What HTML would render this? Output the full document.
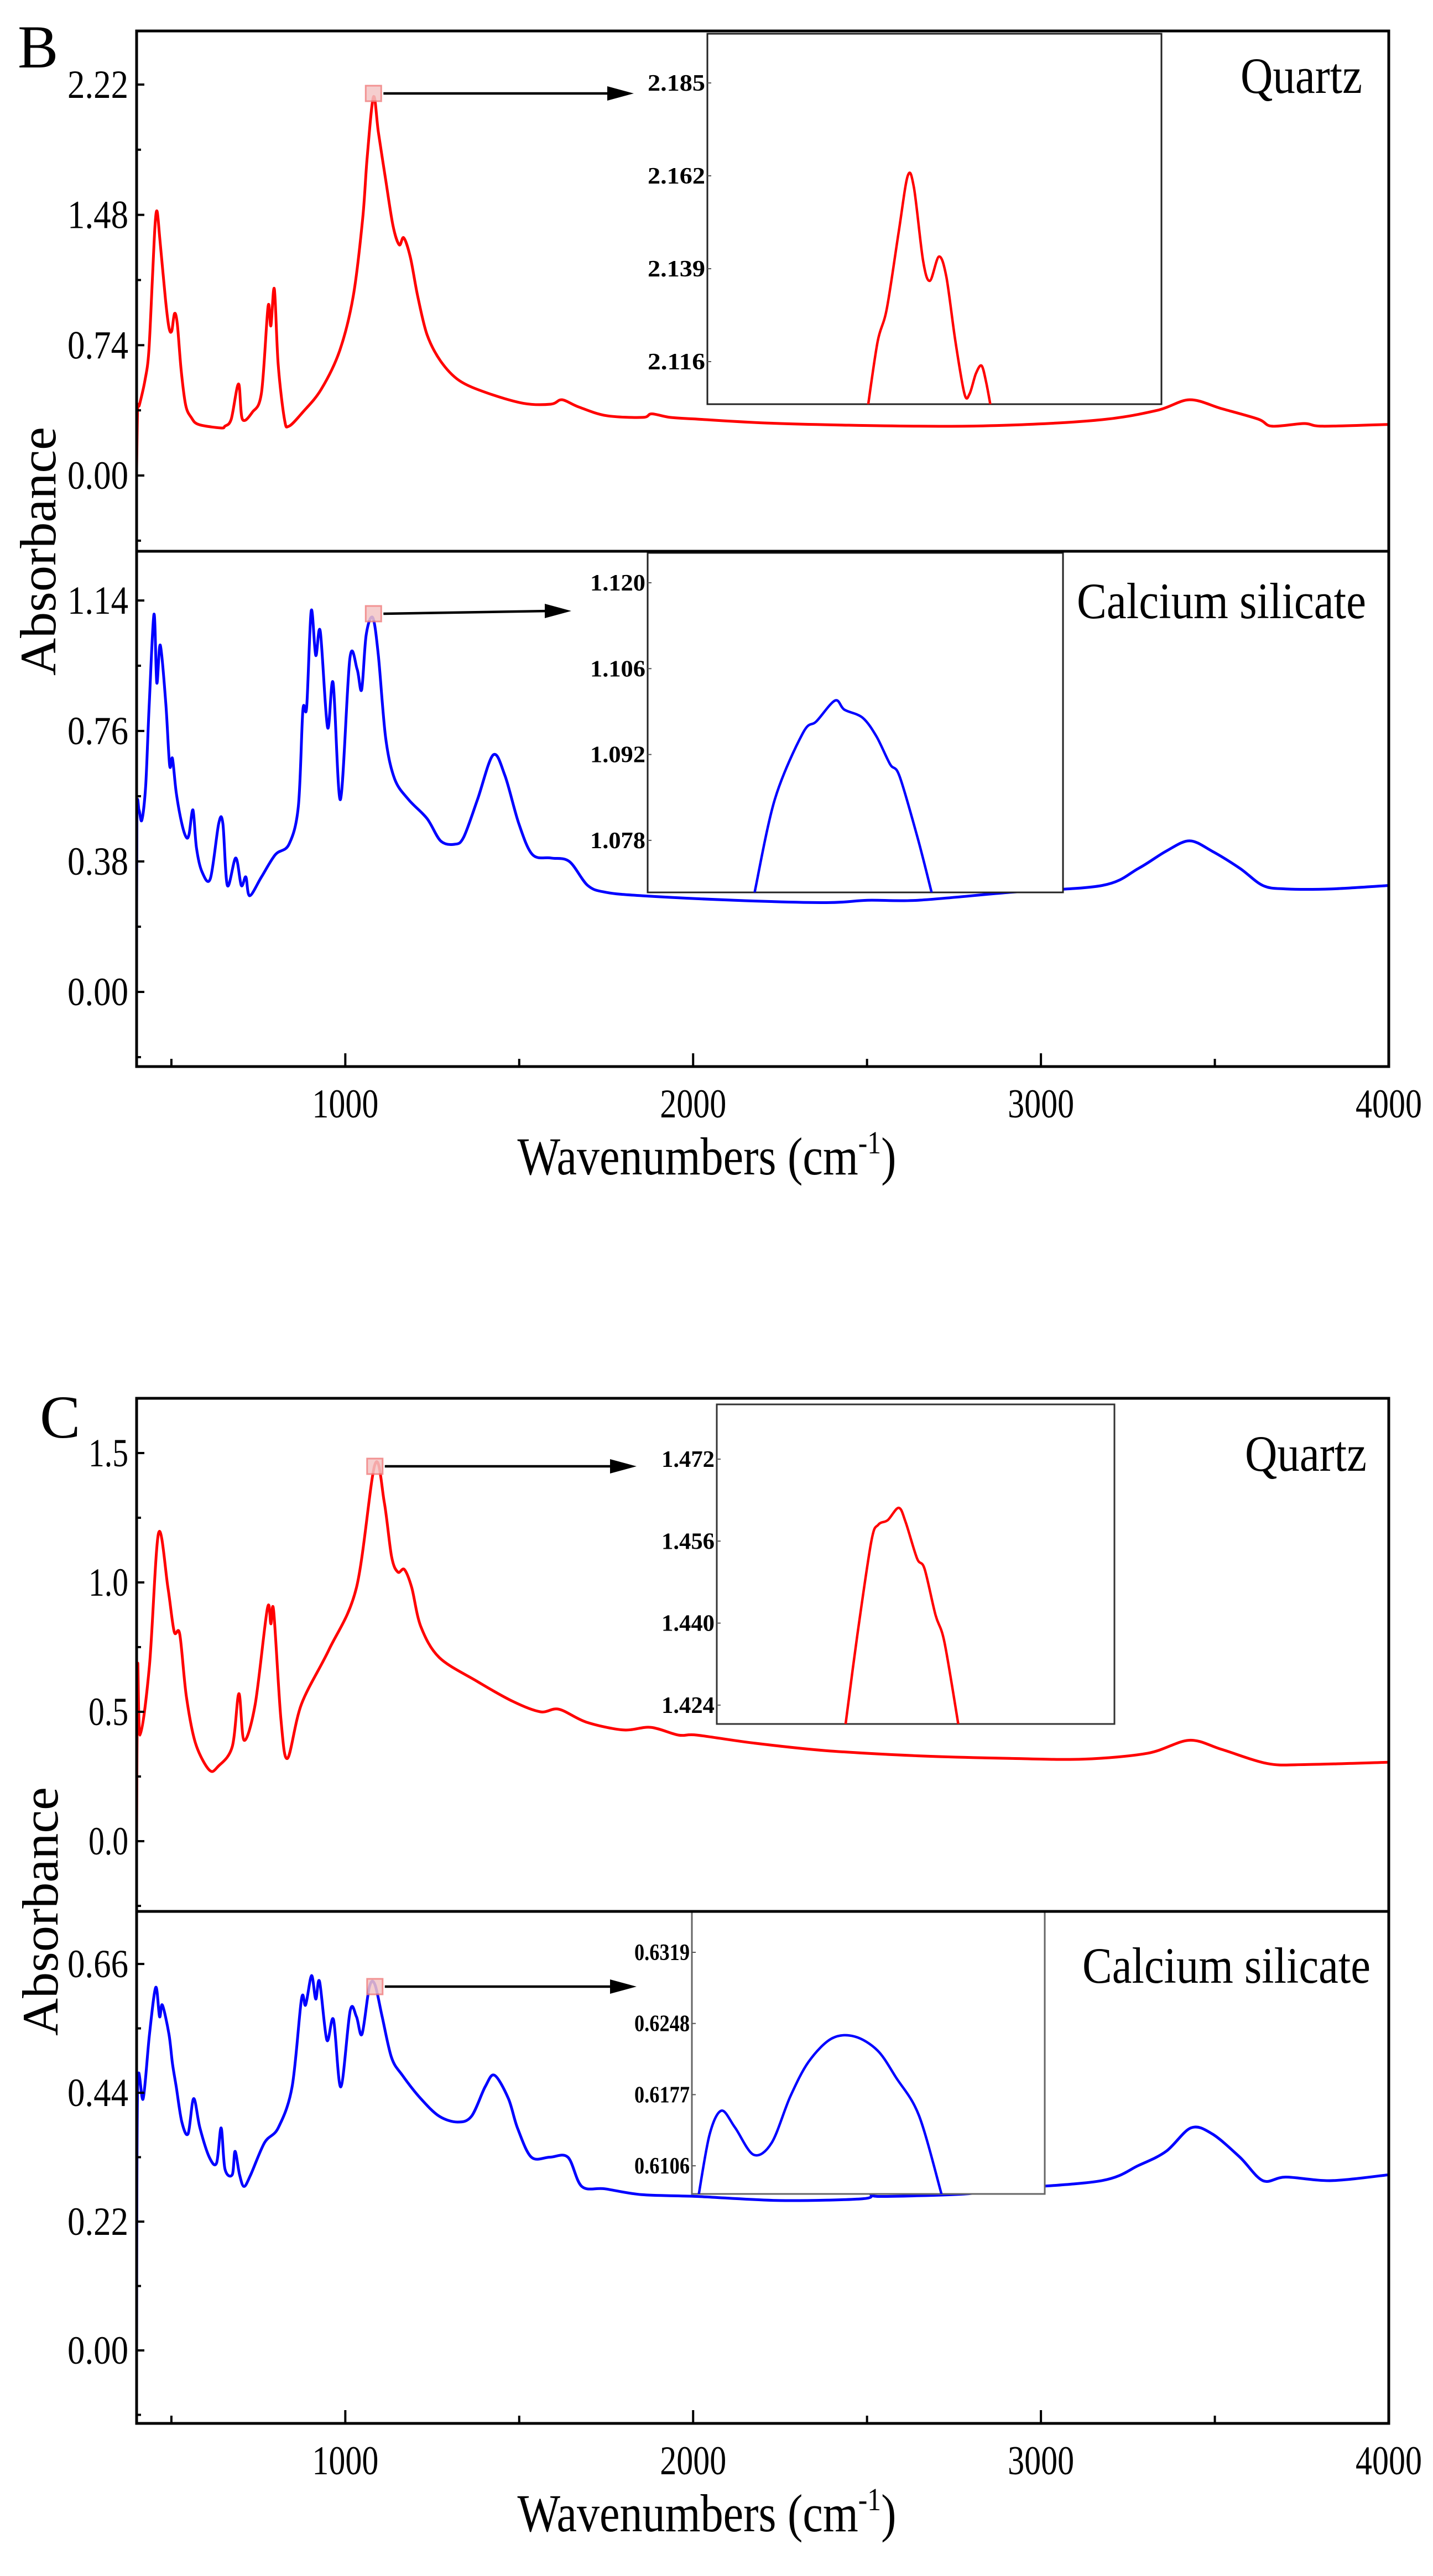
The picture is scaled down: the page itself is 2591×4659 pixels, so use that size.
<!DOCTYPE html>
<html><head><meta charset="utf-8"><style>
html,body{margin:0;padding:0;background:#fff;}
svg{display:block;}
text{font-family:"Liberation Serif",serif;}
</style></head><body>
<svg id="fig" width="2591" height="4659" viewBox="0 0 2591 4659" xmlns="http://www.w3.org/2000/svg">
<rect x="0" y="0" width="2591" height="4659" fill="#fff"/>
</svg>
<script>
// ---------- data ----------
const bQuartzWn=[400,403,408,424,435,445,453,459,467,483,493,501,509,517,528,541,557,578,642,654,672,693,704,733,759,778,786,796,807,825,838,878,931,984,1023,1050,1063,1081,1095,1116,1137,1155,1168,1187,1208,1235,1274,1327,1406,1512,1591,1623,1670,1750,1855,1881,1934,2014,2251,2647,2911,3176,3334,3427,3519,3625,3664,3757,3810,4000];
const bQuartzAbs=[0.04,0.38,0.40,0.54,0.70,1.10,1.42,1.50,1.34,1.00,0.84,0.82,0.92,0.86,0.60,0.40,0.33,0.29,0.27,0.28,0.32,0.52,0.32,0.36,0.47,0.96,0.85,1.06,0.63,0.32,0.28,0.36,0.49,0.71,1.02,1.46,1.81,2.15,1.95,1.68,1.42,1.31,1.35,1.24,1.02,0.80,0.65,0.54,0.47,0.41,0.405,0.43,0.39,0.34,0.33,0.35,0.33,0.32,0.295,0.28,0.286,0.317,0.37,0.43,0.38,0.32,0.28,0.295,0.28,0.29];
const bCaSiWn=[400,401,407,415,426,436,450,458,468,484,495,503,514,530,543,551,562,572,588,612,636,648,661,685,701,714,725,759,799,838,865,878,889,902,915,928,949,965,986,1013,1034,1047,1060,1079,1095,1116,1142,1182,1235,1274,1314,1340,1380,1425,1459,1499,1538,1591,1644,1697,1750,1855,2119,2383,2502,2647,2911,3176,3281,3360,3427,3492,3572,3638,3704,3836,4000];
const bCaSiAbs=[0,0.52,0.53,0.50,0.60,0.83,1.10,0.90,1.01,0.84,0.66,0.68,0.58,0.49,0.45,0.46,0.53,0.42,0.35,0.33,0.49,0.49,0.31,0.39,0.31,0.335,0.28,0.335,0.40,0.43,0.54,0.82,0.83,1.11,0.98,1.05,0.77,0.90,0.56,0.97,0.94,0.88,1.04,1.09,0.98,0.74,0.62,0.56,0.505,0.44,0.43,0.45,0.56,0.69,0.63,0.49,0.40,0.39,0.38,0.31,0.29,0.28,0.267,0.26,0.267,0.267,0.29,0.31,0.36,0.41,0.44,0.41,0.36,0.31,0.30,0.30,0.31];
const cQuartzWn=[400,403,410,437,463,490,508,524,543,569,609,635,675,694,709,741,776,786,794,815,834,874,953,1032,1085,1112,1133,1151,1170,1191,1217,1270,1376,1482,1561,1614,1693,1799,1878,1958,2011,2170,2381,2646,2911,3122,3307,3426,3519,3651,3757,4000];
const cQuartzAbs=[0,0.68,0.41,0.68,1.19,0.98,0.81,0.80,0.56,0.38,0.275,0.29,0.365,0.57,0.39,0.53,0.90,0.84,0.89,0.47,0.32,0.53,0.74,0.98,1.455,1.31,1.10,1.04,1.05,0.98,0.83,0.71,0.62,0.54,0.50,0.51,0.46,0.43,0.44,0.41,0.41,0.38,0.35,0.33,0.32,0.317,0.34,0.39,0.355,0.30,0.296,0.305];
const cCaSiWn=[400,403,419,437,455,466,474,493,503,514,530,548,564,582,609,630,643,654,675,683,696,709,728,768,807,847,874,886,903,915,926,947,966,987,1014,1032,1048,1069,1085,1106,1133,1164,1217,1270,1323,1363,1402,1429,1469,1495,1535,1588,1640,1680,1746,1852,2011,2249,2487,2513,2540,2778,2910,3175,3281,3360,3431,3492,3572,3638,3704,3836,4000];
const cCaSiAbs=[0,0.45,0.43,0.54,0.62,0.57,0.59,0.54,0.49,0.45,0.39,0.37,0.43,0.38,0.33,0.32,0.38,0.31,0.30,0.34,0.30,0.28,0.30,0.355,0.38,0.45,0.60,0.59,0.64,0.60,0.63,0.53,0.565,0.45,0.58,0.57,0.54,0.62,0.625,0.57,0.50,0.47,0.43,0.40,0.39,0.40,0.45,0.47,0.43,0.38,0.33,0.33,0.33,0.28,0.276,0.266,0.263,0.256,0.259,0.267,0.263,0.267,0.276,0.29,0.316,0.34,0.38,0.37,0.33,0.29,0.296,0.29,0.30];
// inset (zoom) data
const bQuartzInsetWn=[1068.3,1070,1071.6,1073.7,1075.3,1076.4,1078,1079.2,1080.8,1082.1,1083.7,1085.3,1086.2,1087.3,1088.3,1089.1,1089.9];
const bQuartzInsetAbs=[2.105,2.121,2.129,2.148,2.162,2.159,2.141,2.136,2.142,2.137,2.121,2.108,2.108,2.113,2.115,2.111,2.105];
const bCaSiInsetWn=[1060.6,1064.5,1069.9,1072.5,1076.1,1077.9,1081.4,1084.1,1086.7,1088.5,1092,1094.7];
const bCaSiInsetAbs=[1.0695,1.0847,1.0955,1.0974,1.1008,1.0993,1.098,1.0949,1.0904,1.0885,1.0784,1.0695];
const cQuartzInsetWn=[1065.9,1068.3,1071.1,1072.5,1074.4,1076.6,1078,1080.3,1081.8,1084,1085.8,1088.6];
const cQuartzInsetAbs=[1.4202,1.4378,1.456,1.4592,1.4601,1.4625,1.4597,1.4526,1.4506,1.4416,1.4363,1.4202];
const cCaSiInsetWn=[1041.5,1044,1046.7,1049.8,1054,1058.1,1062.3,1066.5,1071.7,1076.9,1082.1,1086.3,1091.5,1096.7];
const cCaSiInsetAbs=[0.6076,0.6137,0.6161,0.6144,0.6117,0.6129,0.6175,0.6210,0.6233,0.6235,0.6221,0.6194,0.6156,0.6076];
// tick labels
const xTicks=[1000,2000,3000,4000];
const xMinorTicks=[500,1500,2500,3500];
const bUpperTicks=[0,0.74,1.48,2.22];
const bUpperTickLabels=["0.00","0.74","1.48","2.22"];
const bLowerTicks=[0,0.38,0.76,1.14];
const bLowerTickLabels=["0.00","0.38","0.76","1.14"];
const cUpperTicks=[0,0.5,1.0,1.5];
const cUpperTickLabels=["0.0","0.5","1.0","1.5"];
const cLowerTicks=[0,0.22,0.44,0.66];
const cLowerTickLabels=["0.00","0.22","0.44","0.66"];
const bUpperInsetTicks=[2.185,2.162,2.139,2.116];
const bLowerInsetTicks=[1.120,1.106,1.092,1.078];
const cUpperInsetTicks=[1.472,1.456,1.440,1.424];
const cLowerInsetTicks=[0.6319,0.6248,0.6177,0.6106];

// ---------- drawing ----------
const NS="http://www.w3.org/2000/svg";
const svg=document.getElementById('fig');
function mk(tag,attrs,parent){const e=document.createElementNS(NS,tag);for(const k in attrs)e.setAttribute(k,attrs[k]);(parent||svg).appendChild(e);return e;}
const XL=247,XR=2511;
function xs(wn){return XL+(wn-400)/3600*(XR-XL);}
function smoothPath(pts){
  let d='M'+pts[0][0].toFixed(1)+','+pts[0][1].toFixed(1);
  for(let i=0;i<pts.length-1;i++){
    const p0=pts[Math.max(0,i-1)],p1=pts[i],p2=pts[i+1],p3=pts[Math.min(pts.length-1,i+2)];
    const t=0.16;
    const c1x=p1[0]+(p2[0]-p0[0])*t,c1y=p1[1]+(p2[1]-p0[1])*t;
    const c2x=p2[0]-(p3[0]-p1[0])*t,c2y=p2[1]-(p3[1]-p1[1])*t;
    d+='C'+c1x.toFixed(1)+','+c1y.toFixed(1)+' '+c2x.toFixed(1)+','+c2y.toFixed(1)+' '+p2[0].toFixed(1)+','+p2[1].toFixed(1);
  }
  return d;
}

function drawPanel(p){
  const g=mk('g',{});
  
  
  p.subs.forEach(s=>{
    const sg=mk('g',{},g);
    
    
    const ys=v=>s.y0-v*s.ppu;
    const cid='clip-'+s.name;
    const cp=mk('clipPath',{id:cid},sg);
    mk('rect',{x:XL,y:s.top,width:XR-XL,height:s.bottom-s.top},cp);
    const pts=s.wn.map((w,i)=>[xs(w),ys(s.abs[i])]);
    const path=mk('path',{d:smoothPath(pts),fill:'none',stroke:s.color,'stroke-width':5,'stroke-linejoin':'round','clip-path':'url(#'+cid+')'},sg);
    
    
    const step=s.ticks[1]-s.ticks[0];
    for(let v=s.ticks[0]-step;v<=s.ticks[s.ticks.length-1]+step*1.01;v+=step/2){
      const y=ys(v);
      if(y<s.top+4||y>s.bottom-4)continue;
      const major=Math.abs(Math.round(v/step)*step-v)<1e-6;
      mk('line',{x1:XL,x2:XL+(major?14:8),y1:y,y2:y,stroke:'#000','stroke-width':4},sg);
    }
    s.ticks.forEach((v,i)=>{
      const t=mk('text',{x:232,y:ys(v)+24,'text-anchor':'end','font-size':72,textLength:s.labW,lengthAdjust:'spacingAndGlyphs'},sg);
      t.textContent=s.labels[i];
      
      
    });
    const lt=mk('text',{x:s.lab.x,y:s.lab.y,'font-size':92,textLength:s.lab.w,lengthAdjust:'spacingAndGlyphs'},sg);
    lt.textContent=s.lab.t;
    
    
    const mx=xs(s.mark.wn),my=s.mark.y;
    const sq=mk('rect',{x:mx-14,y:my-14,width:28,height:28,fill:'#f4c6c6',stroke:'#f08080','stroke-width':3,opacity:0.85},sg);
    
    
    const ar=mk('line',{x1:mx+18,y1:my,x2:s.mark.ax-40,y2:s.mark.ay,stroke:'#000','stroke-width':4.5},sg);
    
    
    mk('polygon',{points:(s.mark.ax)+','+s.mark.ay+' '+(s.mark.ax-48)+','+(s.mark.ay-13)+' '+(s.mark.ax-48)+','+(s.mark.ay+13),fill:'#000'},sg);
    const I=s.inset;
    const ig=mk('g',{},sg);
    
    
    mk('rect',{x:I.x1,y:I.y1,width:I.x2-I.x1,height:I.y2-I.y1,fill:'#fff',stroke:I.frame,'stroke-width':3},ig);
    const iy=v=>I.t0y+(I.ticks[0]-v)*I.ppu;
    const ix=w=>I.x1+(w-1040)/80*(I.x2-I.x1);
    const icid='clip-in-'+s.name;
    const icp=mk('clipPath',{id:icid},ig);
    mk('rect',{x:I.x1,y:I.y1,width:I.x2-I.x1,height:I.y2-I.y1},icp);
    const ipts=I.wn.map((w,i)=>[ix(w),iy(I.abs[i])]);
    const ip=mk('path',{d:smoothPath(ipts),fill:'none',stroke:s.color,'stroke-width':4.5,'clip-path':'url(#'+icid+')'},ig);
    
    
    I.ticks.forEach(v=>{
      const y=iy(v);
      mk('line',{x1:I.x1,x2:I.x1+7,y1:y,y2:y,stroke:'#555','stroke-width':2},ig);
      const t=mk('text',{x:I.x1-4,y:y+14,'text-anchor':'end','font-size':42,'font-weight':'bold',textLength:I.labW,lengthAdjust:'spacingAndGlyphs'},ig);
      t.textContent=v.toFixed(I.dec);
      
      
    });
  });
  const fr=mk('rect',{x:XL,y:p.top,width:XR-XL,height:p.bottom-p.top,fill:'none',stroke:'#000','stroke-width':5},g);
  
  
  mk('line',{x1:XL,x2:XR,y1:p.mid,y2:p.mid,stroke:'#000','stroke-width':5},g);
  xTicks.forEach(w=>{
    if(w<4000)mk('line',{x1:xs(w),x2:xs(w),y1:p.bottom,y2:p.bottom-24,stroke:'#000','stroke-width':4},g);
    const t=mk('text',{x:xs(w),y:p.bottom+92,'text-anchor':'middle','font-size':74,textLength:120,lengthAdjust:'spacingAndGlyphs'},g);
    t.textContent=w;
    
    
  });
  xMinorTicks.forEach(w=>mk('line',{x1:xs(w),x2:xs(w),y1:p.bottom,y2:p.bottom-14,stroke:'#000','stroke-width':4},g));
  const xt=mk('text',{x:1278,y:p.bottom+195,'text-anchor':'middle','font-size':96,textLength:685,lengthAdjust:'spacingAndGlyphs'},g);
  xt.innerHTML='Wavenumbers (cm<tspan dy="-38" font-size="58">-1</tspan><tspan dy="38">)</tspan>';
  
  
  const yt=mk('text',{x:0,y:0,'text-anchor':'middle','font-size':92,textLength:450,lengthAdjust:'spacingAndGlyphs',transform:'translate('+(p.ytx)+','+p.mid+') rotate(-90)'},g);
  yt.textContent='Absorbance';
  
  
  const pl=mk('text',{x:p.letter.x,y:p.letter.y,'font-size':110},g);
  pl.textContent=p.letter.t;
  
  
}

drawPanel({name:'panel-b',top:56,mid:997,bottom:1929,ytx:100,letter:{x:32,y:122,t:'B'},
 subs:[
  {name:'b-quartz',color:'#ff0000',top:56,bottom:997,y0:860,ppu:318.5,wn:bQuartzWn,abs:bQuartzAbs,ticks:bUpperTicks,labels:bUpperTickLabels,labW:110,
   lab:{x:2243,y:168,w:220,t:'Quartz'},mark:{wn:1081,y:169,ax:1146,ay:169},
   inset:{x1:1279,x2:2100,y1:61,y2:731,t0y:150,ppu:168/0.023,ticks:bUpperInsetTicks,dec:3,labW:104,frame:'#222',wn:bQuartzInsetWn,abs:bQuartzInsetAbs}},
  {name:'b-calcium-silicate',color:'#0000ff',top:997,bottom:1929,y0:1794,ppu:621,wn:bCaSiWn,abs:bCaSiAbs,ticks:bLowerTicks,labels:bLowerTickLabels,labW:110,
   lab:{x:1947,y:1118,w:523,t:'Calcium silicate'},mark:{wn:1081,y:1110,ax:1033,ay:1105},
   inset:{x1:1171,x2:1922,y1:1000,y2:1614,t0y:1054,ppu:155.3/0.014,ticks:bLowerInsetTicks,dec:3,labW:100,frame:'#222',wn:bCaSiInsetWn,abs:bCaSiInsetAbs}}
 ]});
drawPanel({name:'panel-c',top:2529,mid:3457,bottom:4383,ytx:104,letter:{x:72,y:2600,t:'C'},
 subs:[
  {name:'c-quartz',color:'#ff0000',top:2529,bottom:3457,y0:3330,ppu:468,wn:cQuartzWn,abs:cQuartzAbs,ticks:cUpperTicks,labels:cUpperTickLabels,labW:72,
   lab:{x:2251,y:2660,w:220,t:'Quartz'},mark:{wn:1085,y:2652,ax:1151,ay:2652},
   inset:{x1:1296,x2:2015,y1:2540,y2:3118,t0y:2639,ppu:148.3/0.016,ticks:cUpperInsetTicks,dec:3,labW:96,frame:'#333',wn:cQuartzInsetWn,abs:cQuartzInsetAbs}},
  {name:'c-calcium-silicate',color:'#0000ff',top:3457,bottom:4383,y0:4251,ppu:1059,wn:cCaSiWn,abs:cCaSiAbs,ticks:cLowerTicks,labels:cLowerTickLabels,labW:110,
   lab:{x:1957,y:3586,w:521,t:'Calcium silicate'},mark:{wn:1085,y:3593,ax:1151,ay:3593},
   inset:{x1:1251,x2:1889,y1:3457,y2:3968,t0y:3531,ppu:128.7/0.0071,ticks:cLowerInsetTicks,dec:4,labW:100,frame:'#666',wn:cCaSiInsetWn,abs:cCaSiInsetAbs}}
 ]});
</script>
</body></html>
